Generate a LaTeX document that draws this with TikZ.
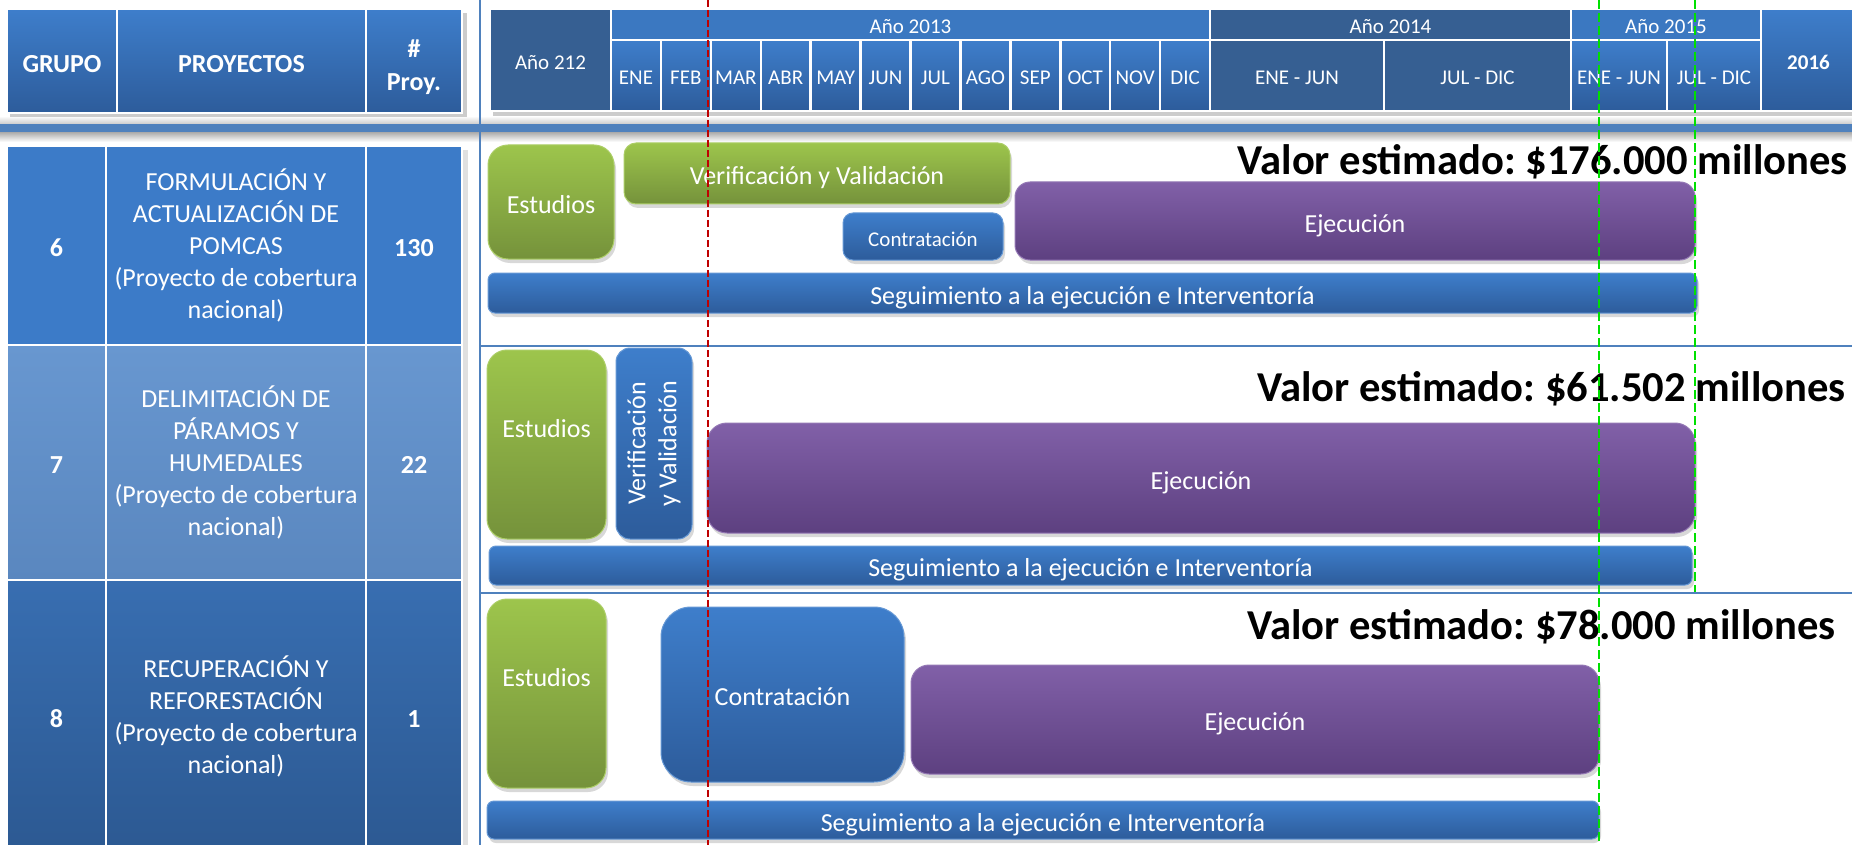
\documentclass[tikz,border=0pt]{standalone}
\usepackage{fontspec}
\setmainfont{Carlito}
\usetikzlibrary{shadows}
\definecolor{hdrA}{HTML}{3E7ECB}
\definecolor{hdrB}{HTML}{2D5C9B}
\definecolor{darkc}{HTML}{365F92}
\definecolor{rowA}{HTML}{3C7BC8}
\definecolor{rowBa}{HTML}{6897D0}
\definecolor{rowBb}{HTML}{5A87BF}
\definecolor{rowCa}{HTML}{386EB1}
\definecolor{rowCb}{HTML}{2C5992}
\definecolor{grA}{HTML}{9DC54C}
\definecolor{grB}{HTML}{75923B}
\definecolor{puA}{HTML}{8160A8}
\definecolor{puB}{HTML}{5D4080}
\definecolor{bandc}{HTML}{4F81BD}
\definecolor{redl}{HTML}{C00000}
\definecolor{greenl}{HTML}{00E000}
\tikzset{
  onesmall/.style={text height=20pt, text depth=1pt},
  onebig/.style={text height=24.2pt, text depth=1.3pt},
  cell/.style={draw=white, line width=2.5pt, inner sep=0pt, text=white, align=center,
    font=\fontsize{21}{25}\selectfont, onesmall},
  gradcell/.style={cell, top color=hdrA, bottom color=hdrB},
  darkcell/.style={cell, fill=darkc},
  flatcell/.style={cell, fill=hdrA!95!black},
  hdrtxt/.style={font=\bfseries\fontsize{26}{33}\selectfont, onebig},
  lcell/.style={draw=white, line width=2.5pt, inner sep=0pt, text=white, align=center,
    font=\fontsize{26}{32}\selectfont},
  numtxt/.style={font=\bfseries\fontsize{26}{32}\selectfont, onebig},
  pbox/.style={inner sep=0pt, text=white, align=center, font=\fontsize{26}{31}\selectfont,
    onebig, drop shadow={shadow xshift=2pt, shadow yshift=-4pt, opacity=0.3}},
  greenbox/.style={pbox, top color=grA, bottom color=grB, draw=grA!85!white, line width=1pt},
  purplebox/.style={pbox, top color=puA, bottom color=puB, draw=puA!85!white, line width=1pt},
  bluebox/.style={pbox, top color=hdrA, bottom color=hdrB, draw=hdrA!80!white, line width=1pt},
  lbl/.style={text=white, align=center, font=\fontsize{26}{31}\selectfont},
  valor/.style={anchor=east, inner sep=0pt, text=black, font=\frenchspacing\bfseries\fontsize{42.6}{50}\selectfont},
  sepline/.style={draw=bandc, line width=2pt},
  reddash/.style={draw=redl, line width=2pt, dash pattern=on 7pt off 3pt},
  greendash/.style={draw=greenl, line width=2pt, dash pattern=on 9pt off 4pt},
}
\newcommand\bx[7]{%
  \pgfmathsetmacro\bxcx{(#2+#4)/2}\pgfmathsetmacro\bxcy{(#3+#5)/2}%
  \pgfmathsetmacro\bxw{#4-#2}\pgfmathsetmacro\bxh{#5-#3}%
  \node[#6, minimum width=\bxw pt, minimum height=\bxh pt, anchor=center] (#1) at (\bxcx,\bxcy) {#7};}
\begin{document}
\begin{tikzpicture}[x=1pt,y=-1pt]
\useasboundingbox (0,0) rectangle (1852,845);
\fill[white] (0,0) rectangle (1852,845);
% horizontal band
\shade[top color=white, bottom color=black!20] (0,116) rectangle (1852,124);
\fill[bandc] (0,124) rectangle (1852,133);
\shade[top color=black!30, bottom color=white] (0,133) rectangle (1852,142);
% separators
\coordinate (vl0) at (480,0); \coordinate (vl1) at (480,845);
\draw[sepline] (vl0) -- (vl1);
\coordinate (hs1a) at (480,346); \coordinate (hs1b) at (1852,346);
\draw[sepline] (hs1a) -- (hs1b);
\coordinate (hs2a) at (480,593); \coordinate (hs2b) at (1852,593);
\draw[sepline] (hs2a) -- (hs2b);
% table shadows
\fill[black!20] (10,13) rectangle (467,117);
\fill[black!20] (493,13) rectangle (1852,116);
\fill[black!12] (10,150) rectangle (468,845);
% left header
\bx{hgrupo}{7}{9}{117}{113}{gradcell,hdrtxt}{GRUPO}
\bx{hproy}{117}{9}{366}{113}{gradcell,hdrtxt}{PROYECTOS}
\bx{hnum}{366}{9}{462}{113}{gradcell,hdrtxt,label={[text=white,align=center,font=\bfseries\fontsize{26}{33}\selectfont,yshift=-6pt,name=hnumt]center:{\#\\Proy.}}}{}
% left rows
\bx{g6}{7}{146}{106}{345}{lcell,fill=rowA,numtxt}{6}
\bx{p6}{106}{146}{366}{345}{lcell,fill=rowA}{FORMULACIÓN Y\\ACTUALIZACIÓN DE\\POMCAS\\(Proyecto de cobertura\\nacional)}
\bx{n6}{366}{146}{462}{345}{lcell,fill=rowA,numtxt}{130}
\bx{g7}{7}{345}{106}{580}{lcell,top color=rowBa,bottom color=rowBb,numtxt}{7}
\bx{p7}{106}{345}{366}{580}{lcell,top color=rowBa,bottom color=rowBb}{DELIMITACIÓN DE\\PÁRAMOS Y\\HUMEDALES\\(Proyecto de cobertura\\nacional)}
\bx{n7}{366}{345}{462}{580}{lcell,top color=rowBa,bottom color=rowBb,numtxt}{22}
\bx{g8}{7}{580}{106}{852}{lcell,top color=rowCa,bottom color=rowCb,numtxt}{8}
\bx{p8}{106}{580}{366}{852}{lcell,top color=rowCa,bottom color=rowCb}{RECUPERACIÓN Y\\REFORESTACIÓN\\(Proyecto de cobertura\\nacional)}
\bx{n8}{366}{580}{462}{852}{lcell,top color=rowCa,bottom color=rowCb,numtxt}{1}
% right header
\bx{a212}{490}{9}{611}{111}{darkcell}{Año 212}
\bx{y2013}{611}{9}{1210}{40}{flatcell}{Año 2013}
\foreach \m [count=\i from 0] in {ENE,FEB,MAR,ABR,MAY,JUN,JUL,AGO,SEP,OCT,NOV,DIC}{
  \pgfmathsetmacro\xa{611+49.92*\i}
  \pgfmathsetmacro\xb{611+49.92*(\i+1)}
  \bx{mon\i}{\xa}{40}{\xb}{111}{gradcell}{\m}
}
\bx{y2014}{1210}{9}{1571}{40}{darkcell}{Año 2014}
\bx{h14a}{1210}{40}{1384}{111}{darkcell}{ENE - JUN}
\bx{h14b}{1384}{40}{1571}{111}{darkcell}{JUL - DIC}
\bx{y2015}{1571}{9}{1761}{40}{flatcell}{Año 2015}
\bx{h15a}{1571}{40}{1667}{111}{gradcell}{ENE - JUN}
\bx{h15b}{1667}{40}{1761}{111}{gradcell}{JUL - DIC}
\bx{y2016}{1761}{9}{1856}{111}{gradcell,font=\bfseries\fontsize{21}{25}\selectfont}{2016}
% row 1
\bx{est1}{488}{145}{614}{259}{greenbox,rounded corners=20pt}{Estudios}
\bx{ver1}{624}{143}{1010}{204}{greenbox,rounded corners=12pt}{Verificación y Validación}
\bx{con1}{843}{213}{1003}{260}{bluebox,rounded corners=10pt,font=\fontsize{21}{25}\selectfont,onesmall}{Contratación}
\bx{eje1}{1015}{182}{1695}{260}{purplebox,rounded corners=15pt}{Ejecución}
\bx{seg1}{488}{273}{1697}{313}{bluebox,rounded corners=7pt}{Seguimiento a la ejecución e Interventoría}
\node[valor] (val1) at (1848,162) {Valor estimado: \$176.000 millones};
% row 2
\bx{est2}{487}{350}{606}{539}{greenbox,rounded corners=20pt,label={[lbl,yshift=16pt,name=est2t]center:Estudios}}{}
\bx{ver2}{616}{348}{692}{539}{bluebox,rounded corners=14pt,label={[lbl,rotate=90,name=ver2t]center:{Verificación\\y Validación}}}{}
\bx{eje2}{707}{423}{1695}{533}{purplebox,rounded corners=20pt}{Ejecución}
\bx{seg2}{489}{546}{1692}{585}{bluebox,rounded corners=7pt}{Seguimiento a la ejecución e Interventoría}
\node[valor] (val2) at (1846,389) {Valor estimado: \$61.502 millones};
% row 3
\bx{est3}{487}{599}{606}{788}{greenbox,rounded corners=20pt,label={[lbl,yshift=16pt,name=est3t]center:Estudios}}{}
\bx{con3}{661}{607}{904}{782}{bluebox,rounded corners=30pt}{Contratación}
\bx{eje3}{911}{665}{1599}{774}{purplebox,rounded corners=18pt}{Ejecución}
\bx{seg3}{487}{801}{1599}{839}{bluebox,rounded corners=7pt}{Seguimiento a la ejecución e Interventoría}
\node[valor] (val3) at (1836,627) {Valor estimado: \$78.000 millones};
% dashed markers
\coordinate (rd0) at (708,0); \coordinate (rd1) at (708,845);
\draw[reddash] (rd0) -- (rd1);
\coordinate (gd0) at (1599,0); \coordinate (gd1) at (1599,845);
\draw[greendash] (gd0) -- (gd1);
\coordinate (ge0) at (1695,0); \coordinate (ge1) at (1695,592);
\draw[greendash] (ge0) -- (ge1);
\end{tikzpicture}
\end{document}
